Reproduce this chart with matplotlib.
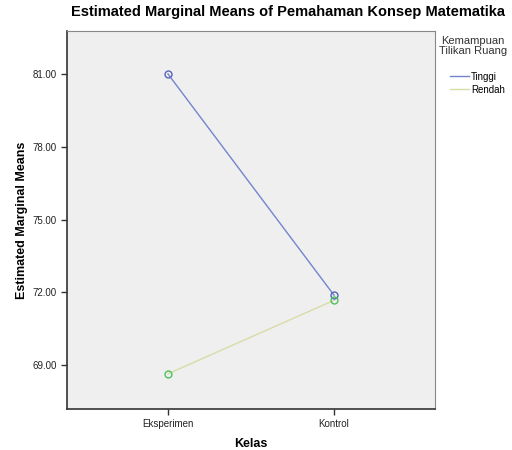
import matplotlib
matplotlib.use("Agg")
import matplotlib.pyplot as plt
from matplotlib.lines import Line2D

plt.rcParams["font.family"] = ["Liberation Sans", "DejaVu Sans"]

kelas = ["Eksperimen", "Kontrol"]
tinggi = [81.00, 71.88]
rendah = [68.64, 71.67]
yticks = [69.0, 72.0, 75.0, 78.0, 81.0]

fig = plt.figure(figsize=(5.12, 4.5), dpi=100)
ax = fig.add_axes([67/512, 41/450, 368/512, 378/450])
ax.set_facecolor("#efefef")

x = list(range(len(kelas)))
ax.plot(x, tinggi, color="#7484cc", lw=1.0, zorder=2)
ax.plot(x, rendah, color="#d9dca6", lw=1.0, zorder=2)
ax.plot(x, tinggi, "o", mfc="none", mec="#5565bb", ms=5, mew=1.0, zorder=3)
ax.plot(x, rendah, "o", mfc="none", mec="#4ec25e", ms=5, mew=1.0, zorder=3)

ax.set_xlim(-0.608, 1.608)
ax.set_ylim(67.19, 82.77)
ax.set_xticks(x)
ax.set_xticklabels(kelas)
ax.set_yticks(yticks)
ax.set_yticklabels([f"{v:.2f}" for v in yticks])
ax.tick_params(labelsize=7, length=4, width=1.0, color="#333333", labelcolor="#222222")

for s in ["left", "bottom"]:
    ax.spines[s].set_color("#333333")
    ax.spines[s].set_linewidth(1.2)
for s in ["right", "top"]:
    ax.spines[s].set_color("#888888")
    ax.spines[s].set_linewidth(0.8)

ax.set_xlabel("Kelas", fontsize=9, fontweight="bold", labelpad=6)
ax.set_ylabel("Estimated Marginal Means", fontsize=9, fontweight="bold", labelpad=3)
fig.text(288/512, 1 - 12/450, "Estimated Marginal Means of Pemahaman Konsep Matematika",
         ha="center", va="center", fontsize=10.5, fontweight="bold")

# legend
fig.text(473/512, 1 - 46/450, "Kemampuan\nTilikan Ruang", ha="center", va="center",
         fontsize=8, color="#333333", linespacing=1.05)
handles = [Line2D([], [], color="#7484cc", lw=1.0), Line2D([], [], color="#d9dca6", lw=1.0)]
fig.legend(handles, ["Tinggi", "Rendah"], loc="upper left",
           bbox_to_anchor=(445/512, 1 - 67/450), frameon=False, fontsize=7,
           handlelength=2.0, handletextpad=0.15, labelspacing=0.3, borderpad=0)

fig.savefig("out.png", dpi=100)
